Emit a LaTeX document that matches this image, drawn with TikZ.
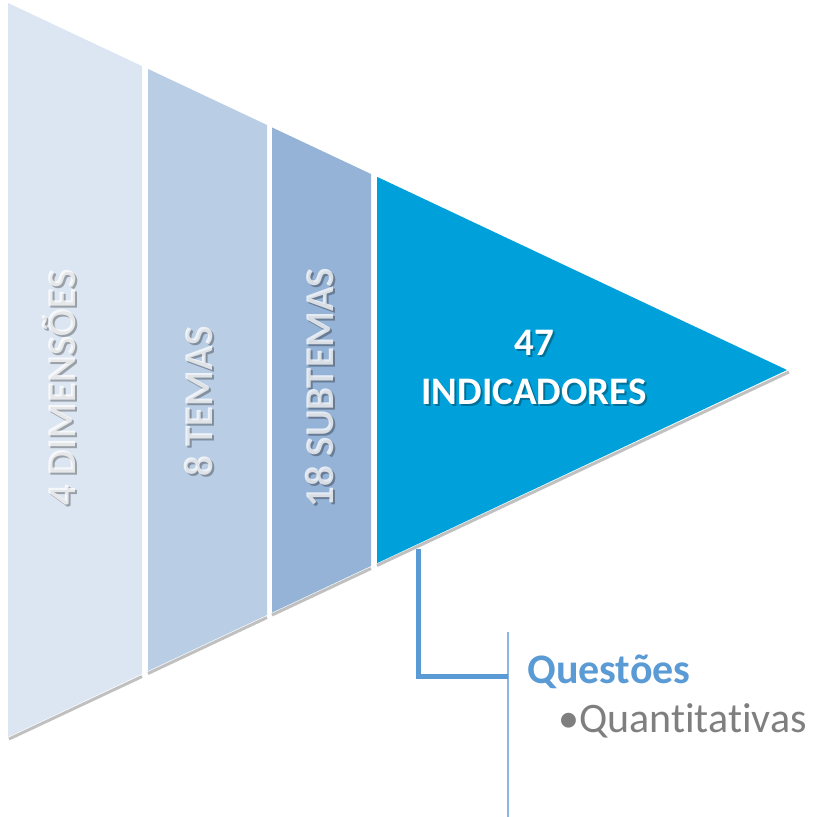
\documentclass[tikz,border=0pt]{standalone}
\usepackage{fontspec}
\setmainfont{Carlito}[Ligatures=NoCommon]
\definecolor{segA}{HTML}{DCE6F2}
\definecolor{segB}{HTML}{B9CDE5}
\definecolor{segC}{HTML}{95B3D7}
\definecolor{segD}{HTML}{00A1DB}
\definecolor{qblue}{HTML}{5B9BD5}
\definecolor{thinblue}{HTML}{8DB4E2}
\definecolor{qgrey}{HTML}{7F7F7F}
\tikzset{
  seglabel/.style={rotate=90,font=\fontsize{41}{42}\selectfont\bfseries,inner sep=0pt},
  segtext/.style={seglabel,text=white,opacity=0.75},
  segshadow/.style={seglabel,text=black,opacity=0.3},
  edgeshadow/.style={draw=black!55,line width=3pt,opacity=0.45},
  bigtext/.style={font=\fontsize{39}{49}\selectfont\bfseries,align=center,inner sep=0pt},
}
\begin{document}
\begin{tikzpicture}[x=1pt,y=-1pt]
\useasboundingbox (0,0) rectangle (816,817);
% shadows along bottom edges
\draw[edgeshadow] (9,739) -- (142,676.5);
\draw[edgeshadow] (148,673.5) -- (267,617.5);
\draw[edgeshadow] (272,615) -- (371,568.5);
\draw[edgeshadow] (377,565.5) -- (789,372);
% segments
\fill[segA] (8,3) -- (142,66.1) -- (142,673.9) -- (8,737) -- cycle;
\fill[segB] (148,68.95) -- (267,125.0) -- (267,615.0) -- (148,671.0) -- cycle;
\fill[segC] (272,127.4) -- (371,174.0) -- (371,566.0) -- (272,612.6) -- cycle;
\fill[segD] (377,176.8) -- (787,370) -- (377,563.2) -- cycle;
% labels
\node[segshadow] (s1s) at (60.5,389.5) {4 DIMENSÕES};
\node[segtext] (s1) at (58.5,387.5) {4 DIMENSÕES};
\node[segshadow] (s2s) at (200.5,403.5) {8 TEMAS};
\node[segtext] (s2) at (198.5,401.5) {8 TEMAS};
\node[segshadow] (s3s) at (321.5,389.5) {18 SUBTEMAS};
\node[segtext] (s3) at (319.5,387.5) {18 SUBTEMAS};
\node[bigtext,text=black,opacity=0.3] (s4s) at (536,369) {47\\INDICADORES};
\node[bigtext,text=white] (s4) at (534,367) {47\\INDICADORES};
% connectors
\coordinate (c1) at (418,549);
\coordinate (c2) at (418,676);
\coordinate (c3) at (508,676);
\coordinate (t1) at (508,632);
\coordinate (t2) at (508,817);
\draw[thinblue,line width=2pt] (t1) -- (t2);
\draw[qblue,line width=5pt] (c1) -- (c2) -- (c3);
% texts
\node[anchor=base west,inner sep=0pt,text=qblue,font=\fontsize{42}{44}\selectfont\bfseries] (q) at (527,683) {Questões};
\node[anchor=base west,inner sep=0pt,text=qgrey,font=\fontsize{42}{44}\selectfont] (qa) at (558,732) {•Quantitativas};
\end{tikzpicture}
\end{document}
